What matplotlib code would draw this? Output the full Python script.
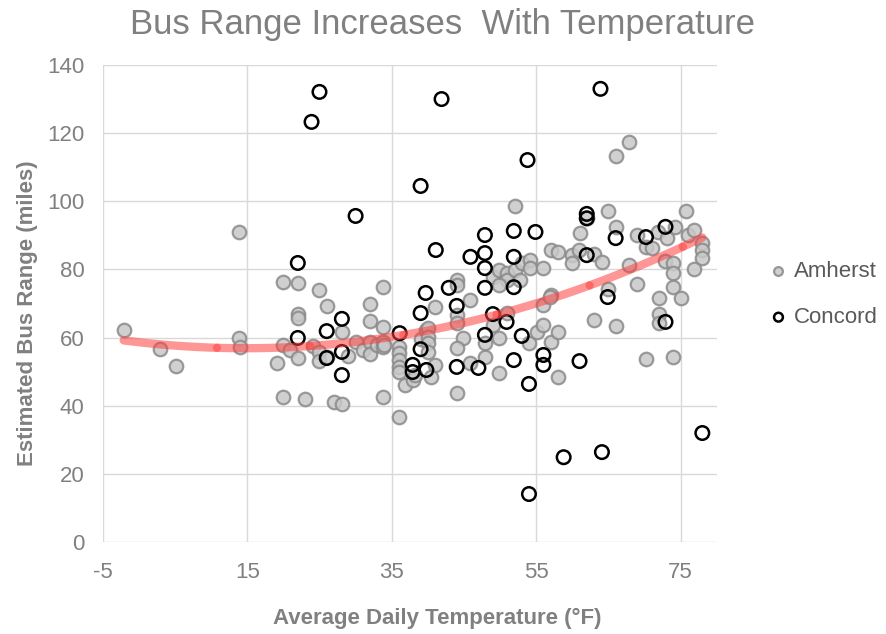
import numpy as np
import matplotlib
matplotlib.use("Agg")
import matplotlib.pyplot as plt

plt.rcParams['font.family'] = ['Liberation Sans', 'DejaVu Sans']
plt.rcParams['axes.unicode_minus'] = False

# Amherst (grey filled)
amherst_x = [-2.1, 2.9, 5.1, 13.8, 13.8, 14.0,
             19.1, 19.9, 19.9, 19.9, 20.9,
             22.0, 22.0, 22.0, 22.0, 23.0, 24.1,
             24.9, 24.9, 24.9, 26.0, 26.0, 27.0,
             28.1, 28.1, 29.0, 30.0, 31.0,
             32.0, 32.0, 32.0, 32.0, 32.9,
             33.8, 33.8, 33.8, 33.8, 33.8, 34.0,
             36.0, 36.0, 36.0, 36.0, 36.0, 36.0,
             36.9, 37.9, 38.2, 39.0, 39.8, 40.0, 40.0, 40.0, 40.0,
             41.0, 41.0, 40.5,
             44.0, 44.0, 45.9, 44.0, 44.0, 44.0, 44.8, 44.0, 45.9,
             47.9, 47.9, 49.0, 49.0, 49.9, 49.9, 50.9,
             49.9, 50.9, 50.9, 49.9, 52.0, 52.7, 53.1, 54.1, 54.1,
             52.0, 56.0, 57.0, 58.0, 59.9, 59.9, 60.9, 61.0, 62.0,
             57.1, 55.9, 54.0, 55.1, 56.0, 57.0, 58.0, 58.0, 56.9,
             63.0, 64.1, 64.9, 66.0, 67.9, 66.0, 68.9, 70.2, 71.1, 71.8,
             73.1, 74.2, 75.8, 76.0, 76.9, 77.9, 78.0, 78.0, 76.9,
             72.8, 73.9, 73.9, 73.9, 75.1, 72.0, 68.9, 67.9,
             64.9, 72.0, 72.0, 63.0, 66.0, 70.2, 74.0]
amherst_y = [62.2, 56.6, 51.7, 90.9, 59.9, 57.2,
             52.5, 42.6, 57.8, 76.3, 56.4,
             76.0, 66.9, 65.7, 54.0, 42.0, 57.5,
             74.0, 55.8, 53.1, 69.3, 54.3, 41.1,
             61.6, 40.5, 54.6, 58.7, 56.4,
             69.9, 64.9, 58.7, 55.2, 57.8,
             74.8, 63.1, 58.7, 57.2, 42.6, 57.8,
             36.7, 57.2, 55.5, 53.4, 51.4, 49.9,
             46.1, 47.5, 49.0, 59.5, 62.2, 62.8, 60.2, 58.4, 55.8,
             69.0, 52.0, 48.5,
             76.9, 75.4, 71.0, 66.6, 64.3, 43.7, 59.9, 57.0, 52.5,
             58.4, 54.3, 63.7, 77.8, 59.9, 49.6, 67.2,
             79.8, 79.0, 76.9, 75.4, 79.8, 76.9, 81.9, 82.8, 80.4,
             98.6, 80.4, 85.7, 85.1, 84.2, 81.9, 85.7, 90.7, 95.1,
             72.5, 69.6, 58.4, 61.6, 63.7, 58.7, 61.6, 48.4, 71.9,
             84.5, 82.2, 97.2, 113.3, 117.4, 92.5, 90.1, 86.6, 86.3, 91.0,
             89.2, 92.5, 97.2, 90.1, 91.6, 87.8, 85.7, 83.4, 80.1,
             82.5, 81.9, 79.0, 74.8, 71.6, 71.6, 75.7, 81.3,
             74.3, 66.9, 64.3, 65.2, 63.4, 53.7, 54.3]

# Concord (open black)
concord_x = [25.0, 23.9, 30.0, 22.0, 22.0, 26.0, 28.1, 28.1, 28.1, 26.0,
             36.1, 39.0, 39.7, 39.0, 37.9, 37.9, 39.8, 41.1, 42.9, 44.0,
             44.0, 45.9, 47.9, 47.9, 47.9, 47.9, 47.9, 47.0, 49.0, 50.9,
             51.9, 51.9, 51.9, 51.9, 54.9, 53.0, 54.0, 56.0, 56.0, 41.9,
             39.0, 53.8, 63.9, 54.0, 58.8, 64.1, 78.0, 61.0, 72.9, 64.9,
             62.0, 62.0, 66.0, 62.0, 70.2, 72.9]
concord_y = [132.1, 123.3, 95.7, 81.9, 59.9, 61.9, 65.5, 55.8, 49.0, 54.0,
             61.3, 67.2, 73.1, 56.6, 52.0, 49.9, 50.5, 85.7, 74.6, 69.3,
             51.4, 83.7, 90.1, 84.8, 80.4, 74.6, 60.8, 51.1, 66.9, 64.6,
             91.3, 83.7, 74.8, 53.4, 91.0, 60.5, 46.4, 54.9, 52.0, 130.0,
             104.5, 112.1, 133.0, 14.1, 24.9, 26.4, 32.0, 53.1, 64.6, 71.9,
             96.3, 95.0, 89.2, 84.2, 89.5, 92.5]

x_ticks = [-5, 15, 35, 55, 75]
y_ticks = [0, 20, 40, 60, 80, 100, 120, 140]

grey_txt = '#808080'

fig = plt.figure(figsize=(8.86, 6.34), dpi=100)
ax = fig.add_axes([0.116, 0.145, 0.693, 0.7525])

ax.scatter(amherst_x, amherst_y, s=95, facecolor='#c8c8c8', edgecolor='#8a8a8a',
           linewidth=1.6, alpha=0.85, label='Amherst', zorder=3)
ax.scatter(concord_x, concord_y, s=95, facecolor='none', edgecolor='black',
           linewidth=1.8, label='Concord', zorder=4)

# 2nd order trendline (Excel-like), drawn in overlapping pieces
coef = np.polyfit(amherst_x, amherst_y, 2)
x0, x1 = min(amherst_x), max(amherst_x)
knots = list(np.arange(x0, x1, 12.9)) + [x1]
for a, b in zip(knots[:-1], knots[1:]):
    xs = np.linspace(a, b, 30)
    ax.plot(xs, np.polyval(coef, xs), color='#ff4040', alpha=0.55, lw=6,
            solid_capstyle='round', zorder=5)

ax.set_xlim(-5, 80)
ax.set_ylim(0, 140)
ax.set_xticks(x_ticks)
ax.set_yticks(y_ticks)
ax.grid(True, color='#d9d9d9', lw=1)
ax.set_axisbelow(True)
for s in ax.spines.values():
    s.set_visible(False)
ax.tick_params(length=0, labelsize=16, labelcolor=grey_txt)
ax.tick_params(axis='x', pad=14)
ax.tick_params(axis='y', pad=13)

ax.set_xlabel('Average Daily Temperature (°F)', fontsize=16, fontweight='bold',
              color=grey_txt)
ax.set_ylabel('Estimated Bus Range (miles)', fontsize=16, fontweight='bold',
              color=grey_txt)
ax.xaxis.set_label_coords(0.544, -0.138)
ax.yaxis.set_label_coords(-0.106, 0.48)
fig.text(0.5, 0.962, 'Bus Range Increases  With Temperature', ha='center',
         va='center', fontsize=25, color=grey_txt)

leg = ax.legend(loc='center left', bbox_to_anchor=(1.086, 0.519), frameon=False,
                fontsize=16, handlelength=0.8, handletextpad=0.3,
                labelspacing=1.13, borderpad=0, borderaxespad=0,
                markerscale=0.65)
for t in leg.get_texts():
    t.set_color('#595959')

fig.savefig('out.png', dpi=100)
